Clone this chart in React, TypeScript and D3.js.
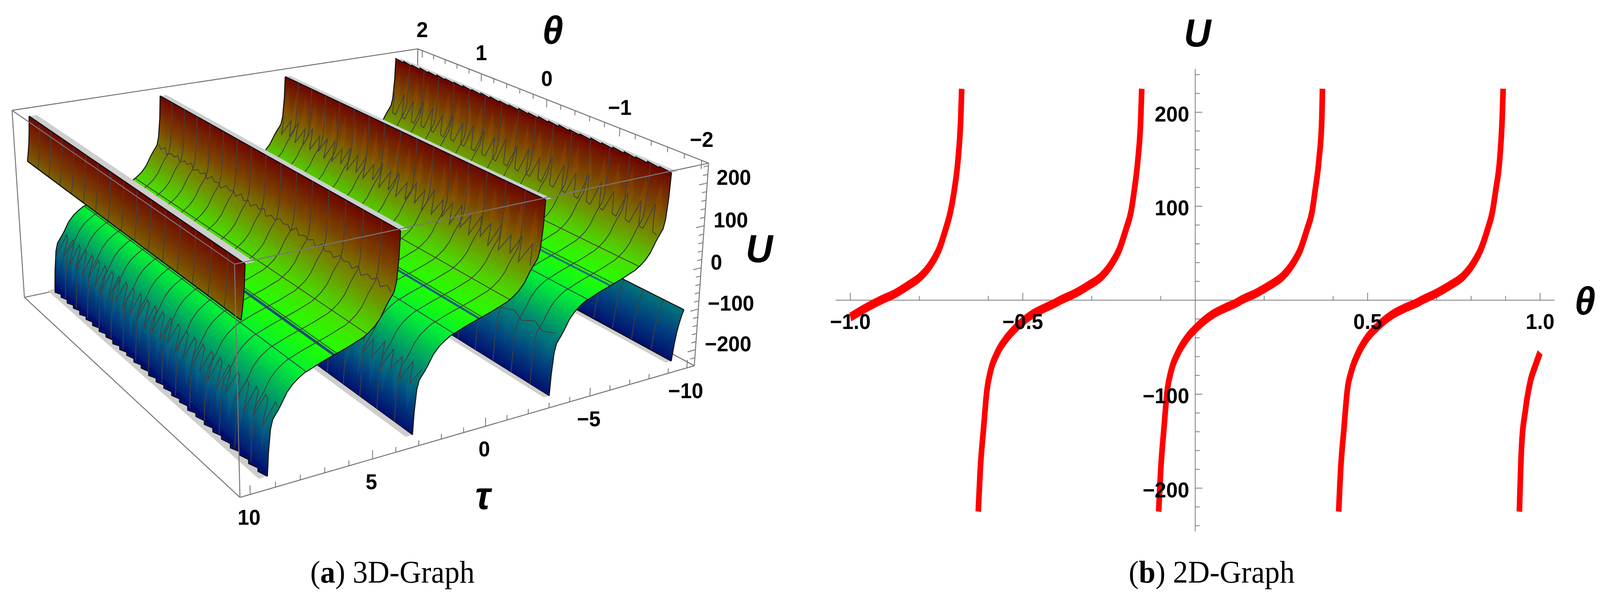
import React from 'react';
import * as d3 from 'd3';

// ---- 2D graph data ----
const riseU = [-225, -179, -138, -96, -75.5, -57, -41, -28, -15, -8, -3, 0, 7.5, 16, 25.5, 39, 54, 75, 94.5, 116, 150, 192, 225];
const branch1Theta = [-1.0, -0.956, -0.912, -0.868, -0.831, -0.795, -0.765, -0.743, -0.724, -0.7095, -0.699, -0.6876, -0.68, -0.677];
const branch1U = [-18, -8.4, 0, 7.5, 16, 25.5, 39, 54, 75, 94.5, 116, 150, 192, 225];
const branch2Theta = [-0.629, -0.623, -0.614, -0.604, -0.5935, -0.575, -0.548, -0.516, -0.472, -0.435, -0.406, -0.391, -0.347, -0.308, -0.271, -0.242, -0.22, -0.201, -0.186, -0.177, -0.166, -0.158, -0.155];
const branch3Theta = [-0.106, -0.0997, -0.091, -0.081, -0.07, -0.051, -0.025, 0.007, 0.051, 0.088, 0.119, 0.133, 0.177, 0.217, 0.2537, 0.283, 0.305, 0.324, 0.339, 0.3475, 0.359, 0.367, 0.369];
const branch4Theta = [0.416, 0.422, 0.431, 0.441, 0.453, 0.472, 0.497, 0.529, 0.573, 0.61, 0.642, 0.657, 0.7, 0.74, 0.777, 0.806, 0.828, 0.8475, 0.862, 0.871, 0.883, 0.89, 0.893];
const branch5Theta = [0.94, 0.946, 0.9575, 0.972, 0.987, 1.0];
const branch5U = [-225, -158.5, -117, -86, -69, -55.6];
const xMajor2d = [-1, -0.5, 0.5, 1];
const xMinor2d = [-0.8, -0.6, -0.3, -0.1, 0.2, 0.4, 0.7, 0.8, 0.9];
const xLabels2d = ['\u22121.0', '\u22120.5', '0.5', '1.0'];
const yMajor2d = [-200, -100, 100, 200];
const yMinor2d = [-240, -220, -180, -160, -140, -120, -80, -60, -40, -20, 20, 40, 60, 80, 120, 140, 160, 180, 220, 240];

// ---- 3D graph data ----
// half profile of one branch: fraction of the way from centre to clip, and U there
const profileS = [0, 0.087, 0.175, 0.262, 0.35, 0.437, 0.524, 0.612, 0.7, 0.787, 0.83, 0.874, 0.91, 0.944, 0.979, 1];
const profileU = [0, 4, 8, 12.5, 17.5, 22, 30, 40, 55, 78, 88, 97, 105, 125, 175, 225];
const CLIP_TOP = 232;
const CLIP_BOTTOM = -225;
const branchTop = [-8.87, -2.76, 3.63];
const branchBottom = [-3.3, 3.02, 9.1];
const endFarTau = [-10, -9.9, -9.8, -9.7, -9.6, -9.5];
const endFarU = [-105, -118, -135, -155, -185, -225];
const endNearTau = [9.8, 9.84, 9.88, 9.92, 9.96, 10];
const endNearU = [232, 195, 168, 150, 134, 120];
const poles = [-9.2, -3.03, 3.32, 9.45];
const meshTheta = [-1.75, -1.5, -1.25, -1, -0.75, -0.5, -0.25, 0, 0.25, 0.5, 0.75, 1, 1.25, 1.5, 1.75];
const meshTau = [-7.5, -6.25, -5, -1.25, 0, 1.25, 5, 6.25, 7.5];

// zigzag mesh lines where the plot sampling broke down on the steep parts
const spikesFar = [150, 143, 148, 138, 146, 150, 141, 147, 152, 139, 148, 143, 151, 140, 146, 149, 142, 150, 138, 147, 152, 141, 148, 144];
const zigMid = [88, 126, 84, 131, 90, 122, 86, 134, 83, 125, 92, 129, 85, 120, 89, 133, 84, 127, 91, 123, 86, 136, 82, 124, 90, 130, 87, 121, 84, 132, 88, 126, 83, 135, 91, 122, 85, 129, 89, 125, 84, 133, 90, 120, 86, 131, 83, 127, 92, 124, 85, 134, 88, 122, 84, 130, 90, 126, 86, 128];
const zigNear = [102, 109, 100, 111, 103, 107, 99, 112, 101, 108, 104, 110, 100, 106, 102, 111, 99, 109, 103, 107, 101, 112, 100, 108, 104, 110, 102, 106, 99, 111, 103, 109, 100, 107, 102, 112, 101, 108, 104, 110, 99, 106, 103, 111, 100, 109, 102, 107, 101, 112, 104, 108, 100, 110, 103, 106, 99, 111, 102, 109];
const zigBlueFar = [-90, -98, -89, -100, -91, -97, -88, -101, -92, -96, -89, -99, -90, -100, -93, -97, -88, -98, -91, -101, -90, -96, -89, -99, -92, -100, -88, -97, -91, -98];
const zigBlueMid = [-86, -122, -84, -128, -88, -118, -85, -130, -83, -121, -90, -126, -86, -116, -87, -129, -84, -124, -89, -119, -85, -132, -82, -120, -88, -127, -86, -117, -84, -128, -87, -122, -83, -131, -89, -118, -85, -125, -88, -121, -84, -129, -90, -116, -86, -127, -83, -123, -89, -120, -85, -130, -87, -118, -84, -126, -88, -122, -86, -124];
const combNear = [-134, -128, -136, -130, -125, -135, -131, -127, -137, -129, -133, -126, -136, -130, -134, -128, -135, -131, -127, -137, -129, -133, -126, -135, -130, -136, -128, -134];
const toothDrop = [8, 9, 8, 10, 8, 9, 9, 8, 10, 8, 9, 8, 9, 10, 8, 9, 8, 9, 10, 8, 9, 9, 8, 10, 8, 9, 8, 9];
const ridgeBump = [3, 4, 3, 4, 4, 3, 4, 3, 3, 4, 3, 4, 3, 4, 3, 3, 4, 4, 3, 4, 3, 3, 4, 3, 4, 3, 4, 3];
// theta of the faint light streaks on the steep walls
const streakTheta = [-1.9, -1.72, -1.55, -1.38, -1.2, -1.02, -0.85, -0.68, -0.5, -0.33, -0.15, 0.02, 0.2, 0.37, 0.55, 0.72, 0.9, 1.07, 1.25, 1.42, 1.6, 1.77, 1.93];

// axis ticks
const thetaTicks3d = d3.range(-20, 21, 2).map(d => d / 10);
const tauTicks3d = d3.range(-10, 11);
const uTicks3d = d3.range(-240, 241, 20);
const thetaLabels3d = [2, 1, 0, -1, -2];
const tauLabels3d = [10, 5, 0, -5, -10];
const uLabels3d = [200, 100, 0, -100, -200];

// box corners on the page, and how far each axis goes into the picture
const O = [639, 1273];
const A = [65, 761];
const B = [1849, 936];
const C = [624.5, 676];
const wA = 1.286;
const wB = 1.175;
const wC = 0.953;

const aScale = d3.scaleLinear().domain([-2.08, 2.08]).range([0, 1]);
const bScale = d3.scaleLinear().domain([10.4, -10.4]).range([0, 1]);
const cScale = d3.scaleLinear().domain([-240, 246]).range([0, 1]);

const project = (theta: number, tau: number, u: number): [number, number] => {
  const a = aScale(theta);
  const b = bScale(tau);
  const c = cScale(u);
  const hx = O[0] + a * (wA * A[0] - O[0]) + b * (wB * B[0] - O[0]) + c * (wC * C[0] - O[0]);
  const hy = O[1] + a * (wA * A[1] - O[1]) + b * (wB * B[1] - O[1]) + c * (wC * C[1] - O[1]);
  const hz = 1 + a * (wA - 1) + b * (wB - 1) + c * (wC - 1);
  return [hx / hz, hy / hz];
};

const colorOf = d3.scaleLinear<string>()
  .domain([-225, -160, -100, -50, -25, 0, 25, 60, 100, 150, 232])
  .range(['#000f6e', '#00427f', '#007a78', '#00c050', '#00ee38', '#22ff00', '#48e000', '#62ae00', '#7a7a00', '#7a4400', '#6e0500']);

const fullS = [...profileS.slice(1).map(d => -d).reverse(), ...profileS];
const fullU = [...profileU.slice(1).map(d => -d).reverse(), ...profileU.slice(0, -1), CLIP_TOP];
const sToU = d3.scaleLinear().domain(fullS).range(fullU);
const uToS = d3.scaleLinear().domain(fullU).range(fullS);

const line = d3.line();
const GREY = '#777777';
const MESH = '#404040';
const SANS = '"Liberation Sans", Arial, sans-serif';

interface Branch {
  tau: number[];
  u: number[];
}

// surface pieces, far to near
const midBranches: Branch[] = branchTop.map((top, i) => {
  const mid = (top + branchBottom[i]) / 2;
  const half = (branchBottom[i] - top) / 2;
  return {
    tau: fullS.map(s => mid - s * half).reverse(),
    u: fullU.slice().reverse()
  };
});
const tauToU = (i: number, tau: number) => {
  const mid = (branchTop[i] + branchBottom[i]) / 2;
  const half = (branchBottom[i] - branchTop[i]) / 2;
  return sToU((mid - tau) / half);
};
const uToTau = (i: number, u: number) => {
  const mid = (branchTop[i] + branchBottom[i]) / 2;
  const half = (branchBottom[i] - branchTop[i]) / 2;
  return mid - uToS(u) * half;
};

const polyPts = (pts: [number, number][]) => pts.map(p => `${p[0].toFixed(1)},${p[1].toFixed(1)}`).join(' ');

const surfaceBands = (br: Branch, key: string) => {
  const out: React.ReactElement[] = [];
  for (let i = 0; i < br.tau.length - 1; i++) {
    const dU = br.u[i + 1] - br.u[i];
    const n = Math.max(1, Math.ceil(Math.abs(dU) / 2.5));
    for (let j = 0; j < n; j++) {
      const t0 = br.tau[i] + (br.tau[i + 1] - br.tau[i]) * (j / n);
      const t1 = br.tau[i] + (br.tau[i + 1] - br.tau[i]) * ((j + 1) / n);
      const u0 = br.u[i] + dU * (j / n);
      const u1 = br.u[i] + dU * ((j + 1) / n);
      const col = colorOf((u0 + u1) / 2);
      out.push(
        <polygon
          key={`${key}-${i}-${j}`}
          points={polyPts([project(-2, t0, u0), project(2, t0, u0), project(2, t1, u1), project(-2, t1, u1)])}
          fill={col}
          stroke={col}
          strokeWidth={1}
        />
      );
    }
  }
  return out;
};

const streaks = (branch: number, uLow: number, uMid: number, uHigh: number, color: string, alpha: number, key: string) =>
  streakTheta.map(th => (
    <polygon
      key={`${key}${th}`}
      points={polyPts([
        project(th, uToTau(branch, uLow), uLow),
        project(th + 0.045, uToTau(branch, uMid), uMid),
        project(th, uToTau(branch, uHigh), uHigh),
        project(th - 0.045, uToTau(branch, uMid), uMid)
      ])}
      fill={color}
      opacity={alpha}
    />
  ));

const thetaLines = (br: Branch, key: string) =>
  meshTheta.map(th => (
    <path
      key={`${key}-m${th}`}
      d={line(br.tau.map((t, i) => project(th, t, br.u[i]))) || ''}
      fill="none"
      stroke={MESH}
      strokeWidth={2.2}
    />
  ));

const outline = (br: Branch, key: string) =>
  [-2, 2].map(th => (
    <path
      key={`${key}-o${th}`}
      d={line(br.tau.map((t, i) => project(th, t, br.u[i]))) || ''}
      fill="none"
      stroke="#111"
      strokeWidth={2.6}
    />
  ));

const cap = (t0: number, t1: number, u: number, key: string) => (
  <polygon
    key={key}
    points={polyPts([project(-2, t0, u), project(2, t0, u), project(2, t1, u), project(-2, t1, u)])}
    fill="#cecece"
  />
);

const edge = (t: number, u: number, key: string, w = 3) => (
  <path
    key={key}
    d={line([project(-2, t, u), project(2, t, u)]) || ''}
    fill="none"
    stroke="#111"
    strokeWidth={w}
  />
);

// serrated clip edge of a wall: each entry is one tooth along theta
const serration = (tau: number, u: number, inner: number, sizes: number[], dir: number, key: string) => {
  const pts: [number, number][] = [project(-2, tau, u)];
  sizes.forEach((s, i) => {
    const next = -2 + (4 * (i + 1)) / sizes.length;
    pts.push(project(next, tau, u + dir * s));
    pts.push(project(next, tau, u));
  });
  const col = colorOf(u);
  return (
    <g key={key}>
      <polygon points={polyPts([...pts, project(2, tau, inner), project(-2, tau, inner)])} fill={col} />
      <path d={line(pts) || ''} fill="none" stroke="#111" strokeWidth={2.6} />
    </g>
  );
};

const zigLine = (branch: number, values: number[], key: string) => (
  <path
    key={key}
    d={line(values.map((u, i) => project(-2 + (4 * (i + 0.5)) / values.length, uToTau(branch, u), u))) || ''}
    fill="none"
    stroke={MESH}
    strokeWidth={2.2}
  />
);

const plainTauLines = (branch: number) =>
  meshTau
    .filter(t => t > branchTop[branch] && t < branchBottom[branch])
    .map(t => (
      <path
        key={`t${t}`}
        d={line([project(-2, t, tauToU(branch, t)), project(2, t, tauToU(branch, t))]) || ''}
        fill="none"
        stroke={MESH}
        strokeWidth={2.2}
      />
    ));

const blueStrip = (branch: number) => {
  const mid = (branchTop[branch] + branchBottom[branch]) / 2;
  return (
    <polygon
      key={`strip${branch}`}
      points={polyPts([project(-2, mid - 0.07, 0), project(2, mid - 0.07, 0), project(2, mid + 0.07, 0), project(-2, mid + 0.07, 0)])}
      fill={['#14708a', '#14608a', '#134f7c'][branch]}
    />
  );
};

const Surface3D = () => {
  const farBranch: Branch = { tau: endFarTau, u: endFarU };
  const nearBranch: Branch = { tau: endNearTau, u: endNearU };
  const spikes = spikesFar.flatMap(p => [90, 92, p]);
  const comb = combNear.flatMap(d => [-84, -80, d]);
  return (
    <g>
      {/* end piece past the first pole */}
      {cap(poles[0], endFarTau[5], CLIP_BOTTOM, 'capF')}
      {surfaceBands(farBranch, 'far')}
      {thetaLines(farBranch, 'far')}
      {outline(farBranch, 'far')}
      {edge(endFarTau[5], CLIP_BOTTOM, 'eF0')}
      {edge(endFarTau[0], endFarU[0], 'eF1', 2.6)}

      {midBranches.map((br, i) => (
        <g key={`br${i}`}>
          {cap(poles[i], branchTop[i], CLIP_TOP, `capT${i}`)}
          {cap(branchBottom[i], poles[i + 1], CLIP_BOTTOM, `capB${i}`)}
          {surfaceBands(br, `b${i}`)}
          {streaks(i, 100, 150, 210, '#c87a00', i === 2 ? 0.04 : 0.12, `so${i}`)}
          {streaks(i, -185, -130, -80, '#2aa0c8', i === 0 ? 0.04 : 0.1, `sb${i}`)}
          {blueStrip(i)}
          {i === 0 && serration(branchTop[i], CLIP_TOP, 222, ridgeBump, 1, 'ridge')}
          {i === 2 && serration(branchBottom[i], CLIP_BOTTOM, -212, toothDrop, -1, 'teeth')}
          {i !== 0 && edge(branchTop[i], CLIP_TOP, `eT${i}`)}
          {i !== 2 && edge(branchBottom[i], CLIP_BOTTOM, `eB${i}`, 1.5)}
          {thetaLines(br, `b${i}`)}
          {plainTauLines(i)}
          {i === 0 && zigLine(0, spikes, 'z0')}
          {i === 0 && zigLine(0, zigBlueFar, 'z1')}
          {i === 1 && zigLine(1, zigMid, 'z2')}
          {i === 1 && zigLine(1, zigBlueMid, 'z3')}
          {i === 2 && zigLine(2, zigNear, 'z4')}
          {i === 2 && zigLine(2, comb, 'z5')}
          {outline(br, `b${i}`)}
        </g>
      ))}

      {/* last piece, the flat brown face at the tau = 10 boundary */}
      {cap(poles[3], endNearTau[0], CLIP_TOP, 'capN')}
      {surfaceBands(nearBranch, 'near')}
      {thetaLines(nearBranch, 'near')}
      {outline(nearBranch, 'near')}
      {edge(endNearTau[0], CLIP_TOP, 'eN0')}
      {edge(endNearTau[5], endNearU[5], 'eN1')}
    </g>
  );
};

const T_MAX = 2.08;
const TAU_MAX = 10.4;
const U_MIN = -240;
const U_MAX = 246;

const boxLine = (p: [number, number], q: [number, number], key: string) => (
  <path key={key} d={line([p, q]) || ''} fill="none" stroke={GREY} strokeWidth={2.6} />
);

const Axes3D = () => {
  const tickLabel = { fontFamily: SANS, fontWeight: 700, fontSize: 55, dominantBaseline: 'central' as const };
  const fmt = (d: number) => (d < 0 ? `\u2212${-d}` : `${d}`);
  return (
    <g>
      {thetaTicks3d.map(t => {
        const [x0, y0] = project(t, -TAU_MAX, U_MAX);
        const major = Number.isInteger(t);
        const [x1, y1] = project(t, -TAU_MAX, U_MAX - (major ? 20 : 12));
        return <path key={`tt${t}`} d={line([[x0, y0], [x1, y1]]) || ''} stroke={GREY} strokeWidth={2.2} />;
      })}
      {tauTicks3d.map(t => {
        const [x0, y0] = project(-T_MAX, t, U_MIN);
        const major = t % 5 === 0;
        const [x1, y1] = project(-T_MAX, t, U_MIN + (major ? 20 : 12));
        return <path key={`ta${t}`} d={line([[x0, y0], [x1, y1]]) || ''} stroke={GREY} strokeWidth={2.2} />;
      })}
      {uTicks3d.map(u => {
        const [x0, y0] = project(-T_MAX, -TAU_MAX, u);
        const major = u % 100 === 0;
        const [x1, y1] = project(-T_MAX, -TAU_MAX + (major ? 0.42 : 0.25), u);
        return <path key={`tu${u}`} d={line([[x0, y0], [x1, y1]]) || ''} stroke={GREY} strokeWidth={2.2} />;
      })}
      {thetaLabels3d.map(t => {
        const [x, y] = project(t, -TAU_MAX, U_MAX);
        return <text key={`lt${t}`} x={x} y={y - 54} textAnchor="middle" {...tickLabel}>{fmt(t)}</text>;
      })}
      {tauLabels3d.map(t => {
        const [x, y] = project(-T_MAX, t, U_MIN);
        return <text key={`la${t}`} x={x - 3} y={y + 58} textAnchor="middle" {...tickLabel}>{fmt(t)}</text>;
      })}
      {uLabels3d.map(u => {
        const [x, y] = project(-T_MAX, -TAU_MAX, u);
        return <text key={`lu${u}`} x={x + 25} y={y - 15} textAnchor="start" {...tickLabel}>{fmt(u)}</text>;
      })}
      <text x={1472} y={77} textAnchor="middle" dominantBaseline="central" fontFamily={SANS} fontWeight={700} fontStyle="italic" fontSize={100}>θ</text>
      <text x={1286} y={1268} textAnchor="middle" dominantBaseline="central" fontFamily={SANS} fontWeight={700} fontStyle="italic" fontSize={100}>τ</text>
      <text x={2022} y={636} textAnchor="middle" dominantBaseline="central" fontFamily={SANS} fontWeight={700} fontStyle="italic" fontSize={100}>U</text>
    </g>
  );
};

// the curve's pen is taller than it is wide, the plot was stretched upward
const PEN_STRETCH = 1.55;

const Graph2D = () => {
  const x = d3.scaleLinear().domain([-1.0426, 1.042]).range([2225.4, 4140]);
  const y = d3.scaleLinear().domain([-246, 246]).range([768.3 + 246 * 2.405, 768.3 - 246 * 2.405]);
  const curve = d3.line<[number, number]>().x(d => x(d[0])).y(d => y(d[1]) / PEN_STRETCH).curve(d3.curveMonotoneX);
  const zip = (ts: number[], us: number[]) => ts.map((t, i) => [t, us[i]] as [number, number]);
  const branches = [
    zip(branch1Theta, branch1U),
    zip(branch2Theta, riseU),
    zip(branch3Theta, riseU),
    zip(branch4Theta, riseU),
    zip(branch5Theta, branch5U)
  ];
  const x0 = x(0);
  const y0 = y(0);
  const label = { fontFamily: SANS, fontWeight: 700, fontSize: 55, dominantBaseline: 'central' as const };
  return (
    <g>
      <line x1={x(-1.0426)} x2={x(1.042)} y1={y0} y2={y0} stroke={GREY} strokeWidth={2} />
      <line x1={x0} x2={x0} y1={y(-246)} y2={y(246)} stroke={GREY} strokeWidth={2} />
      {xMajor2d.map(t => <line key={`xM${t}`} x1={x(t)} x2={x(t)} y1={y0} y2={y0 - 19} stroke={GREY} strokeWidth={2} />)}
      {xMinor2d.map(t => <line key={`xm${t}`} x1={x(t)} x2={x(t)} y1={y0} y2={y0 - 11} stroke={GREY} strokeWidth={2} />)}
      {yMajor2d.map(u => <line key={`yM${u}`} x1={x0} x2={x0 + 19} y1={y(u)} y2={y(u)} stroke={GREY} strokeWidth={2} />)}
      {yMinor2d.map(u => <line key={`ym${u}`} x1={x0} x2={x0 + 12} y1={y(u)} y2={y(u)} stroke={GREY} strokeWidth={2} />)}
      <g transform={`scale(1,${PEN_STRETCH})`}>
        {branches.map((b, i) => (
          <path key={`c${i}`} d={curve(b) || ''} fill="none" stroke="#ff0000" strokeWidth={15} />
        ))}
      </g>
      {xMajor2d.map((t, i) => (
        <text key={`xl${t}`} x={x(t)} y={823} textAnchor="middle" {...label}>{xLabels2d[i]}</text>
      ))}
      {yMajor2d.map(u => (
        <text key={`yl${u}`} x={x0 - 16} y={y(u) + 4} textAnchor="end" {...label}>{u < 0 ? `\u2212${-u}` : u}</text>
      ))}
      <text x={3189} y={84} textAnchor="middle" dominantBaseline="central" fontFamily={SANS} fontWeight={700} fontStyle="italic" fontSize={100}>U</text>
      <text x={4221} y={770} textAnchor="middle" dominantBaseline="central" fontFamily={SANS} fontWeight={700} fontStyle="italic" fontSize={100}>θ</text>
    </g>
  );
};

export default function App() {
  const F = project(-T_MAX, TAU_MAX, U_MIN);
  const R = project(-T_MAX, -TAU_MAX, U_MIN);
  const BL = project(T_MAX, TAU_MAX, U_MIN);
  const BB = project(T_MAX, -TAU_MAX, U_MIN);
  const TF = project(-T_MAX, TAU_MAX, U_MAX);
  const TR = project(-T_MAX, -TAU_MAX, U_MAX);
  const TL = project(T_MAX, TAU_MAX, U_MAX);
  const TB = project(T_MAX, -TAU_MAX, U_MAX);
  const caption = { fontFamily: '"Liberation Serif", serif', fontSize: 80 };
  return (
    // the window can be narrower than the reference, so the drawing is fitted to it
    <svg
      viewBox="0 0 4261 1533"
      preserveAspectRatio="none"
      style={{ position: 'absolute', left: 0, top: 0, width: '100vw', height: '100vh', background: '#fff' }}
    >
      {/* back of the box goes under the surface */}
      {boxLine(BL, BB, 'e1')}
      {boxLine(R, BB, 'e2')}
      {boxLine(TB, BB, 'e3')}
      {boxLine(TL, TB, 'e4')}
      {boxLine(TB, TR, 'e5')}
      {boxLine(TL, BL, 'e6')}
      {boxLine(F, BL, 'e7')}
      {boxLine(F, R, 'e8')}
      {boxLine(R, TR, 'e9')}
      <Axes3D />
      <Surface3D />
      {boxLine(TF, TL, 'e10')}
      {boxLine(TF, TR, 'e11')}
      {boxLine(TF, F, 'e12')}
      <Graph2D />
      <text x={1045} y={1491} textAnchor="middle" {...caption}>
        (<tspan fontWeight={700}>a</tspan>) 3D-Graph
      </text>
      <text x={3227} y={1491} textAnchor="middle" {...caption}>
        (<tspan fontWeight={700}>b</tspan>) 2D-Graph
      </text>
    </svg>
  );
}
